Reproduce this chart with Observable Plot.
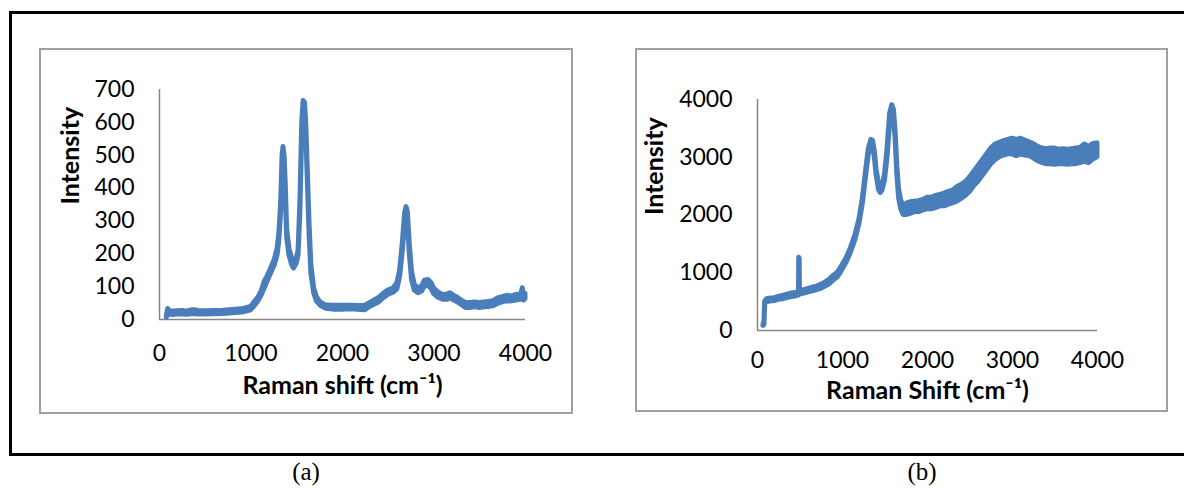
<!DOCTYPE html>
<html>
<head>
<meta charset="utf-8">
<script src="https://cdn.jsdelivr.net/npm/d3@7"></script>
<script src="https://cdn.jsdelivr.net/npm/@observablehq/plot@0.6"></script>
<style>
  html, body { margin: 0; padding: 0; background: #fff; width: 1184px; height: 488px; overflow: hidden; }
  .abs { position: absolute; }
  #outer { left: 9px; top: 11px; width: 1250px; height: 439px; border: 3px solid #000; box-sizing: content-box; }
  .frame { border: 2px solid #a0a0a0; box-sizing: border-box; }
  .cap { font-family: "Liberation Serif", "Times New Roman", serif; font-size: 25px; color: #000; transform: translate(-50%, -50%); white-space: nowrap; }
</style>
</head>
<body>
<div id="outer" class="abs"></div>
<div class="abs frame" style="left:39px;top:48px;width:534px;height:366px;"></div>
<div class="abs frame" style="left:635px;top:48px;width:533px;height:364px;"></div>
<div id="pa" class="abs" style="left:40px;top:49px;"></div>
<div id="pb" class="abs" style="left:636px;top:49px;"></div>
<div class="abs cap" style="left:306px;top:472px;">(a)</div>
<div class="abs cap" style="left:922px;top:472px;">(b)</div>
<script>
// ---- Panel (a) data: Raman shift (cm^-1) with lower / upper envelope of the noisy trace ----
const ramanA_shift = [80,95,110,150,200,260,300,350,400,420,500,600,700,800,900,960,1000,1040,1080,1120,1150,1180,1220,1260,1290,1310,1330,1345,1355,1368,1380,1395,1420,1450,1470,1500,1520,1540,1560,1575,1590,1605,1620,1640,1660,1690,1720,1760,1820,1900,2000,2100,2200,2250,2300,2400,2450,2500,2560,2600,2630,2660,2685,2700,2715,2735,2760,2790,2830,2870,2900,2940,2970,3000,3040,3100,3150,3180,3220,3260,3300,3350,3400,3450,3500,3550,3600,3650,3700,3750,3800,3850,3900,3950,3970,3985,4000];
const ramanA_low   = [5,20,15,14,15,16,14,16,17,15,15,16,17,19,21,25,28,40,55,75,95,115,140,165,195,240,330,470,505,470,380,250,195,165,155,170,195,330,570,645,640,560,430,260,140,80,55,42,33,30,30,31,29,28,38,52,65,75,82,92,130,210,300,325,300,200,120,88,80,85,100,102,95,78,68,60,60,65,58,52,45,35,35,38,35,37,38,40,48,52,55,55,58,60,70,58,62];
const ramanA_high  = [10,32,25,24,25,26,24,28,28,26,25,26,27,29,31,35,38,52,66,88,115,130,155,182,215,260,360,500,525,495,410,275,215,185,170,185,210,360,600,665,660,590,460,290,165,95,68,52,43,42,42,42,41,42,50,66,78,88,95,110,150,235,325,342,325,230,145,105,95,100,118,120,112,95,84,74,76,80,72,66,58,50,50,52,50,52,53,56,64,68,72,70,75,74,95,72,78];

// ---- Panel (b) data ----
const ramanB_shift = [70,82,90,110,150,200,250,300,350,400,450,480,488,491,496,500,550,600,650,700,750,800,850,900,950,1000,1050,1100,1150,1200,1240,1280,1310,1340,1360,1380,1400,1430,1450,1470,1500,1530,1560,1585,1605,1625,1645,1665,1690,1720,1760,1800,1850,1900,1950,2000,2050,2100,2150,2200,2250,2300,2350,2400,2450,2500,2550,2600,2650,2700,2750,2800,2850,2900,2950,3000,3050,3100,3150,3200,3250,3300,3350,3400,3450,3500,3550,3600,3650,3700,3750,3800,3850,3900,3950,4000];
const ramanB_low   = [80,100,450,490,500,510,530,540,560,580,590,600,610,640,640,620,640,660,680,700,720,760,800,870,930,1050,1180,1350,1560,1850,2200,2700,3050,3230,3200,3000,2700,2430,2380,2420,2600,3000,3600,3820,3700,3300,2700,2300,2100,2000,2000,2020,2050,2050,2080,2100,2100,2120,2150,2150,2180,2200,2230,2280,2330,2400,2500,2580,2680,2780,2880,2950,3000,3030,3050,3050,3020,3050,3030,3020,2980,2930,2900,2880,2880,2870,2880,2880,2870,2880,2880,2900,2920,2900,2960,3000];
const ramanB_high  = [100,150,500,540,550,560,580,600,620,640,650,660,670,1260,1240,680,700,720,740,760,790,830,880,950,1010,1130,1260,1430,1640,1930,2290,2800,3150,3300,3280,3100,2800,2520,2460,2500,2700,3150,3750,3900,3820,3450,2850,2450,2250,2150,2200,2220,2230,2240,2260,2300,2300,2330,2350,2370,2400,2420,2480,2520,2570,2650,2750,2850,2950,3050,3150,3220,3250,3280,3300,3320,3300,3320,3290,3260,3230,3180,3150,3140,3150,3150,3130,3140,3130,3140,3150,3160,3220,3180,3230,3240];

// ---- Axes ----
const shiftTicks = [0,1000,2000,3000,4000];
const intensityTicksA = [0,100,200,300,400,500,600,700];
const intensityTicksB = [0,1000,2000,3000,4000];
const titleY = "Intensity";
const titleXA = "Raman shift (cm⁻¹)";
const titleXB = "Raman Shift (cm⁻¹)";

const BLUE = "#4a7ebb";
const AXIS = "#868686";
const FONT = "Lato, 'Open Sans', sans-serif";

function build(shift, lo, hi) {
  return shift.map((x, i) => ({x, lo: lo[i], hi: hi[i]}));
}

function panel(opts) {
  const data = build(opts.shift, opts.lo, opts.hi);
  return Plot.plot({
    width: opts.width, height: opts.height,
    marginLeft: opts.ml, marginRight: opts.mr, marginTop: opts.mt, marginBottom: opts.mb,
    x: {domain: [0, 4000]},
    y: {domain: opts.ydomain},
    style: {fontFamily: FONT, fontSize: "23px", color: "#000", background: "transparent", overflow: "visible"},
    marks: [
      Plot.axisX({ticks: shiftTicks, tickSize: 0, tickPadding: opts.xpad, tickFormat: d => String(d), label: null}),
      Plot.axisY({ticks: opts.yticks, tickSize: 0, tickPadding: 25, tickFormat: d => String(d), label: null}),
      Plot.ruleX([0], {stroke: AXIS, strokeWidth: 1.5}),
      Plot.ruleY([0], {stroke: AXIS, strokeWidth: 1.5}),
      Plot.areaY(data, {x: "x", y1: "lo", y2: "hi", fill: BLUE, stroke: BLUE, strokeWidth: 5, strokeLinejoin: "round", curve: "linear"}),
      Plot.text([titleY], {text: d => d, frameAnchor: "left", dx: opts.ydx, rotate: -90, fontWeight: "bold", fontSize: 25, fill: "#000"}),
      Plot.text([opts.xtitle], {text: d => d, frameAnchor: "bottom", dy: opts.xdy, fontWeight: "bold", fontSize: 25, fill: "#000"})
    ]
  });
}

document.getElementById("pa").append(panel({
  shift: ramanA_shift, lo: ramanA_low, hi: ramanA_high,
  width: 531, height: 363, ml: 119, mr: 46, mt: 40, mb: 93,
  ydomain: [0, 700], yticks: intensityTicksA, xpad: 25, ydx: -89, xdy: 74, xtitle: titleXA
}));
document.getElementById("pb").append(panel({
  shift: ramanB_shift, lo: ramanB_low, hi: ramanB_high,
  width: 530, height: 361, ml: 121, mr: 69, mt: 50, mb: 80,
  ydomain: [0, 4000], yticks: intensityTicksB, xpad: 21, ydx: -103, xdy: 68, xtitle: titleXB
}));
</script>
</body>
</html>
